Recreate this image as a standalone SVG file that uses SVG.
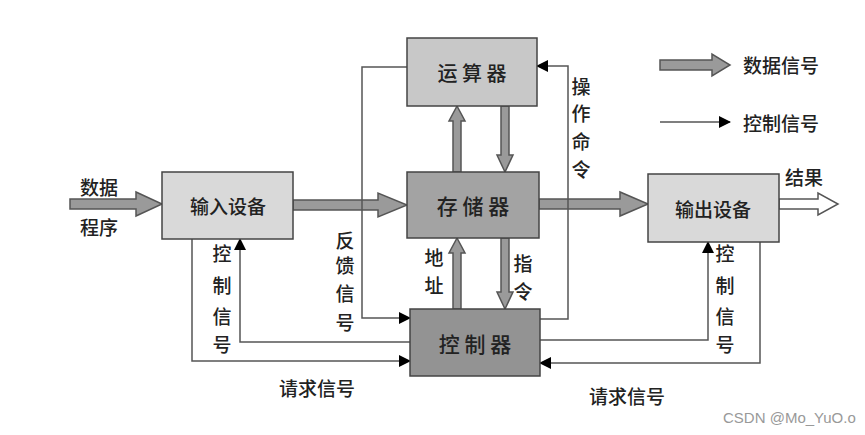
<svg xmlns="http://www.w3.org/2000/svg" width="865" height="435" viewBox="0 0 865 435">
<defs>
<marker id="tri" viewBox="0 0 12 12" refX="11" refY="6" markerWidth="12" markerHeight="12" markerUnits="userSpaceOnUse" orient="auto">
<path d="M0,0 L12,6 L0,12 Z" fill="#000"/>
</marker>
</defs>
<style>
.box{stroke:#444;stroke-width:1.5}
.t{font-family:"Noto Sans CJK SC","Noto Sans",sans-serif;fill:#222;text-anchor:middle;dominant-baseline:central;font-weight:500}
.v{font-size:19px}
.fat{fill:#9a9a9a;stroke:#555;stroke-width:1.5;stroke-linejoin:miter}
.thin{fill:none;stroke:#555;stroke-width:1.5}
.ctl{marker-end:url(#tri)}
</style>
<rect width="865" height="435" fill="#fff"/>
<g id="connectors">
<polygon class="fat" points="70,199 136,199 136,192 162,204 136,216 136,209 70,209"/>
<polygon class="fat" points="293,200 378,200 378,193 407,205 378,217 378,210 293,210"/>
<polygon class="fat" points="539,199 620,199 620,192 648,204 620,216 620,209 539,209"/>
<polygon class="fat" style="fill:#fff" points="779,199 818,199 818,193 838,204 818,215 818,209 779,209"/>
<polygon class="fat" points="453,172 453,121 449,121 457,106 465,121 461,121 461,172"/>
<polygon class="fat" points="501,106 501,155 497,155 505,172 513,155 509,155 509,106"/>
<polygon class="fat" points="453,309 453,253 449,253 457,238 465,253 461,253 461,309"/>
<polygon class="fat" points="501,238 501,292 497,292 505,309 513,292 509,292 509,238"/>
<polyline class="thin ctl" points="407,67 362,67 362,318 410,318"/>
<polyline class="thin ctl" points="540,319 568,319 568,66 537,66"/>
<polyline class="thin ctl" points="410,342 240,342 240,239"/>
<polyline class="thin ctl" points="192,239 192,361 410,361"/>
<polyline class="thin ctl" points="540,340 708,340 708,242"/>
<polyline class="thin ctl" points="760,242 760,363 540,363"/>
</g>
<g id="n-alu"><rect class="box" x="407" y="38" width="130" height="68" fill="#c8c8c8"/><text class="t" x="472" y="72" font-size="20">运 算 器</text></g>
<g id="n-mem"><rect class="box" x="407" y="172" width="132" height="66" fill="#a3a3a3"/><text class="t" x="473" y="205" font-size="21">存 储 器</text></g>
<g id="n-ctl"><rect class="box" x="410" y="309" width="130" height="67" fill="#939393"/><text class="t" x="475" y="343" font-size="21">控 制 器</text></g>
<g id="n-in"><rect class="box" x="162" y="172" width="131" height="67" fill="#d9d9d9"/><text class="t" x="228" y="205" font-size="19">输入设备</text></g>
<g id="n-out"><rect class="box" x="648" y="174" width="131" height="68" fill="#d9d9d9"/><text class="t" x="713" y="208" font-size="19">输出设备</text></g>
<g id="labels">
<text class="t" x="99" y="186" font-size="19">数据</text>
<text class="t" x="99" y="226" font-size="19">程序</text>
<text class="t" x="804" y="176" font-size="19">结果</text>
<text class="t v" x="581" y="85">操</text>
<text class="t v" x="581" y="112">作</text>
<text class="t v" x="581" y="140">命</text>
<text class="t v" x="581" y="168">令</text>
<text class="t v" x="345" y="239">反</text>
<text class="t v" x="345" y="264">馈</text>
<text class="t v" x="345" y="292">信</text>
<text class="t v" x="345" y="321">号</text>
<text class="t v" x="222" y="252">控</text>
<text class="t v" x="222" y="284">制</text>
<text class="t v" x="222" y="315">信</text>
<text class="t v" x="222" y="343">号</text>
<text class="t v" x="725" y="252">控</text>
<text class="t v" x="725" y="284">制</text>
<text class="t v" x="725" y="315">信</text>
<text class="t v" x="725" y="343">号</text>
<text class="t v" x="434" y="256">地</text>
<text class="t v" x="434" y="284">址</text>
<text class="t v" x="523" y="262">指</text>
<text class="t v" x="523" y="290">令</text>
<text class="t" x="317" y="387" font-size="19">请求信号</text>
<text class="t" x="627" y="395" font-size="19">请求信号</text>
</g>
<g id="legend">
<polygon class="fat" points="660,60 712,60 712,54 730,65 712,76 712,70 660,70"/>
<text class="t" x="781" y="64" font-size="19">数据信号</text>
<line class="thin ctl" x1="660" y1="122" x2="730" y2="122"/>
<text class="t" x="781" y="122" font-size="19">控制信号</text>
</g>
<text x="723" y="423" font-family="Liberation Sans, sans-serif" font-size="15" fill="#999">CSDN @Mo_YuO.o</text>
</svg>
